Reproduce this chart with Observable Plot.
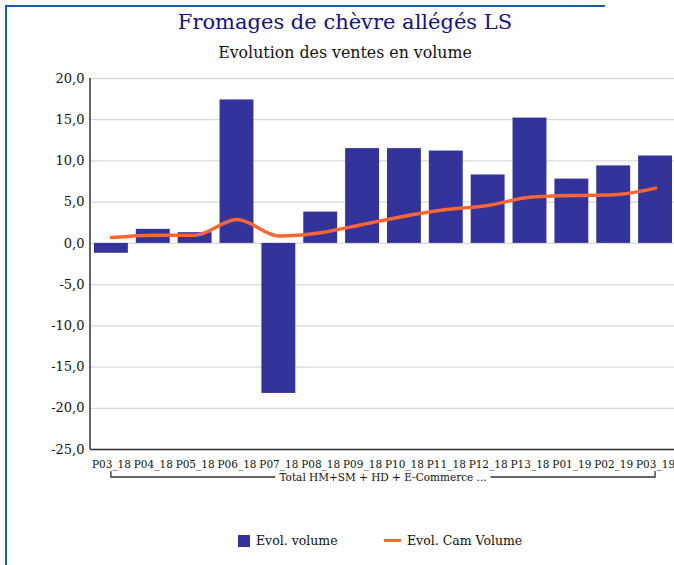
<!DOCTYPE html>
<html>
<head>
<meta charset="utf-8">
<script src="https://cdn.jsdelivr.net/npm/d3@7"></script>
<script src="https://cdn.jsdelivr.net/npm/@observablehq/plot@0.6"></script>
<style>
  html, body { margin: 0; padding: 0; overflow: hidden; background: #fff; }
  body { position: relative; height: 565px; }
  .bar { position: absolute; background: #1a5cab; }
  .t { position: absolute; left: 0; width: 690px; text-align: center; font-family: "DejaVu Serif", serif; white-space: nowrap; }
  #title { top: 10px; font-size: 21px; color: #12128a; }
  #subtitle { top: 43px; font-size: 15.8px; color: #111; }
  #chart { position: absolute; left: 0; top: 0; width: 700px; }
  #chart svg { max-width: none !important; }
  #legend { position: absolute; top: 531px; left: 0; width: 674px; font-family: "DejaVu Serif", serif; font-size: 12.5px; color: #111; }
  .li { position: absolute; display: flex; align-items: center; white-space: nowrap; }
  .sw { display: inline-block; width: 12px; height: 12px; background: #333399; margin-right: 6px; }
  .ln { display: inline-block; width: 17px; height: 3px; background: #ff6633; margin-right: 6px; }
</style>
</head>
<body>
<div id="chart"></div>
<div class="bar" style="left:5px;top:5px;width:600px;height:2px"></div>
<div class="bar" style="left:5px;top:5px;width:2px;height:600px"></div>
<div class="t" id="title">Fromages de chèvre allégés LS</div>
<div class="t" id="subtitle">Evolution des ventes en volume</div>
<div id="legend">
  <div class="li" style="left:238px;top:2px"><span class="sw"></span><span id="l1"></span></div>
  <div class="li" style="left:384px;top:2px"><span class="ln"></span><span id="l2"></span></div>
</div>
<script>
const periods = ["P03_18","P04_18","P05_18","P06_18","P07_18","P08_18","P09_18","P10_18","P11_18","P12_18","P13_18","P01_19","P02_19","P03_19"];
const evolVolume = [-1.2, 1.7, 1.3, 17.4, -18.2, 3.8, 11.5, 11.5, 11.2, 8.3, 15.2, 7.8, 9.4, 10.6];
const evolCamVolume = [0.7, 1.0, 1.0, 2.9, 0.9, 1.3, 2.3, 3.3, 4.1, 4.6, 5.6, 5.8, 5.9, 6.7];
const yTicks = [-25, -20, -15, -10, -5, 0, 5, 10, 15, 20];
const groupLabel = "Total HM+SM + HD + E-Commerce ...";
const seriesNames = ["Evol. volume", "Evol. Cam Volume"];

document.getElementById("l1").textContent = seriesNames[0];
document.getElementById("l2").textContent = seriesNames[1];

const data = periods.map((p, i) => ({period: p, vol: evolVolume[i], cam: evolCamVolume[i]}));
const fmt = v => d3.format(".1f")(v).replace(".", ",").replace("−", "-");

const plot = Plot.plot({
  width: 700,
  height: 565,
  marginTop: 78,
  marginBottom: 116,
  marginLeft: 90,
  marginRight: 24,
  style: {fontFamily: "DejaVu Serif, serif", background: "transparent", color: "#111", maxWidth: "none"},
  x: {domain: periods, paddingInner: 0.19, paddingOuter: 0.095, round: false, label: null},
  y: {domain: [-25, 20], label: null},
  marks: [
    Plot.gridY(yTicks, {stroke: "#d9d9d9", strokeOpacity: 1, strokeWidth: 1.3}),
    Plot.axisY(yTicks, {tickSize: 0, tickPadding: 6, tickFormat: fmt, fontSize: 13, label: null}),
    Plot.axisX({tickSize: 0, tickPadding: 11, fontSize: 10.5, label: null}),
    Plot.barY(data, {x: "period", y: "vol", fill: "#333399"}),
    Plot.lineY(data, {x: "period", y: "cam", stroke: "#ff6633", strokeWidth: 3.5, curve: "monotone-x"}),
    Plot.ruleY([-25], {stroke: "#333", strokeWidth: 1.5})
  ]
});
plot.style.maxWidth = "none";
document.getElementById("chart").appendChild(plot);

// y-axis line and category group bracket, computed from the plot's scales
const xs = plot.scale("x"), ys = plot.scale("y");
const svg = d3.select(plot);
const x0 = xs.range[0];
svg.append("line").attr("x1", x0).attr("x2", x0)
  .attr("y1", ys.apply(20)).attr("y2", ys.apply(-25))
  .attr("stroke", "#333").attr("stroke-width", 1.5);

const bw = xs.bandwidth;
const cFirst = xs.apply(periods[0]) + bw / 2;
const cLast = xs.apply(periods[periods.length - 1]) + bw / 2;
const yb = ys.apply(-25);
const yTop = yb + 22, yBot = yb + 28;
const mid = (cFirst + cLast) / 2;
const txt = svg.append("text").attr("x", mid).attr("y", yBot + 4)
  .attr("text-anchor", "middle").attr("font-size", 10.5).attr("fill", "#111")
  .attr("font-family", "DejaVu Serif, serif").text(groupLabel);
const tw = txt.node().getComputedTextLength();
const gap = 4;
const path = `M${cFirst},${yTop}V${yBot}H${mid - tw / 2 - gap}M${mid + tw / 2 + gap},${yBot}H${cLast}V${yTop}`;
svg.append("path").attr("d", path).attr("fill", "none").attr("stroke", "#333").attr("stroke-width", 1.3);
</script>
</body>
</html>
